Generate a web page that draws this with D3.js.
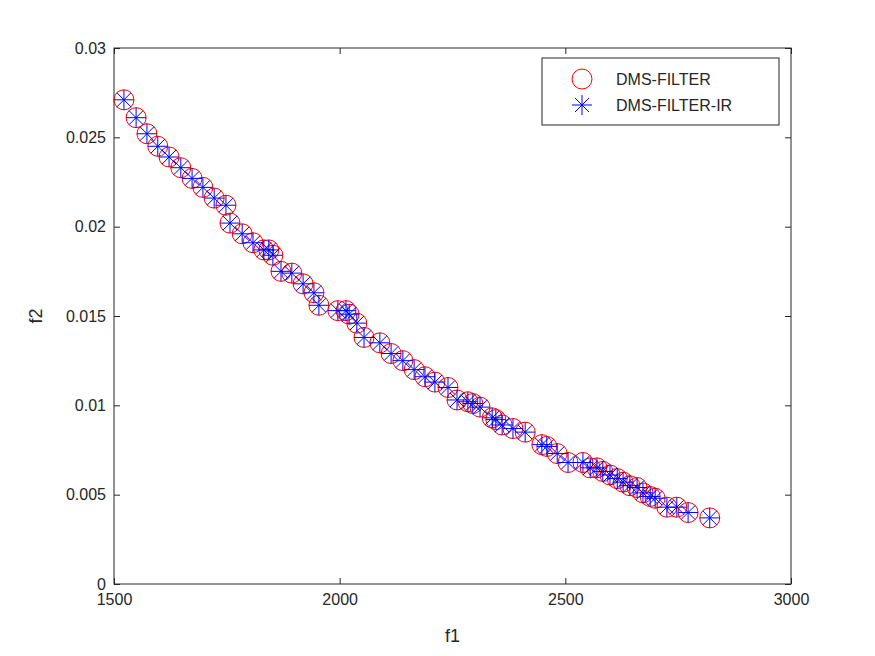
<!DOCTYPE html>
<html lang="en">
<head>
<meta charset="UTF-8">
<script src="https://d3js.org/d3.v7.min.js"></script>
<style>
  body { margin: 0; background: #fff; }
  text { font-family: "Liberation Sans", Arial, sans-serif; fill: #262626; }
</style>
</head>
<body>
<script>
const f1 = [1522,1549,1573,1597,1622,1648,1673,1697,1722,1748,1757,1784,1808,1832,1843,1852,1870,1894,1919,1943,1954,1996,2014,2021,2038,2054,2089,2114,2140,2165,2189,2211,2240,2260,2284,2295,2311,2338,2346,2360,2384,2411,2448,2459,2482,2506,2539,2555,2570,2583,2599,2615,2628,2643,2659,2672,2688,2699,2725,2747,2772,2820]
const f2 = [0.0271,0.0261,0.0252,0.0245,0.0239,0.0233,0.0227,0.0222,0.0216,0.0212,0.0202,0.0196,0.0191,0.0187,0.0187,0.0184,0.0175,0.0174,0.0168,0.0163,0.0156,0.0153,0.0153,0.0151,0.0146,0.0138,0.0135,0.0129,0.0125,0.0120,0.0116,0.0113,0.0110,0.0103,0.0102,0.0101,0.0099,0.0093,0.0092,0.0089,0.0087,0.0085,0.0078,0.0077,0.0073,0.0068,0.0068,0.0065,0.0065,0.0063,0.0061,0.0059,0.0057,0.0055,0.0054,0.0051,0.0049,0.0048,0.0043,0.0043,0.0040,0.0037]
const seriesNames = ["DMS-FILTER", "DMS-FILTER-IR"]
const xTicks = [1500, 2000, 2500, 3000]
const yTicks = [0, 0.005, 0.01, 0.015, 0.02, 0.025, 0.03]

const W = 875, H = 656
const margin = {top: 48, right: 84, bottom: 72, left: 114}
const width = W - margin.left - margin.right, height = H - margin.top - margin.bottom

const svg = d3.select("body").append("svg").attr("width", W).attr("height", H)
const g = svg.append("g").attr("transform", `translate(${margin.left},${margin.top})`)

const x = d3.scaleLinear().domain([1500, 3000]).range([0, width])
const y = d3.scaleLinear().domain([0, 0.03]).range([height, 0])

g.append("rect").attr("width", width).attr("height", height).attr("fill", "none").attr("stroke", "#262626")

const xa = g.append("g").attr("transform", `translate(0,${height})`)
  .call(d3.axisBottom(x).tickValues(xTicks).tickSize(-6).tickPadding(10).tickFormat(d3.format("d")))
const ya = g.append("g")
  .call(d3.axisLeft(y).tickValues(yTicks).tickSize(-6).tickPadding(8).tickFormat(d => d === 0 ? "0" : String(+d.toFixed(3))))
g.append("g").call(d3.axisTop(x).tickValues(xTicks).tickSize(-6).tickFormat(""))
g.append("g").attr("transform", `translate(${width},0)`).call(d3.axisRight(y).tickValues(yTicks).tickSize(-6).tickFormat(""))
g.selectAll(".domain").remove()
g.selectAll(".tick line").attr("stroke", "#262626")
g.selectAll(".tick text").style("font-size", "16px").attr("fill", "#262626")

g.append("text").attr("x", width / 2).attr("y", height + 58).attr("text-anchor", "middle").style("font-size", "18px").text("f1")
g.append("text").attr("transform", "rotate(-90)").attr("x", -height / 2).attr("y", -72).attr("text-anchor", "middle").style("font-size", "18px").text("f2")

const pts = f1.map((v, i) => [v, f2[i]])

function star(sel, r) {
  const a = r * Math.SQRT1_2
  sel.append("path").attr("fill", "none").attr("stroke", "blue").attr("stroke-width", 1)
    .attr("d", `M${-r},0H${r}M0,${-r}V${r}M${-a},${-a}L${a},${a}M${-a},${a}L${a},${-a}`)
}

g.selectAll(".c").data(pts).enter().append("circle")
  .attr("cx", d => x(d[0])).attr("cy", d => y(d[1])).attr("r", 10)
  .attr("fill", "none").attr("stroke", "red").attr("stroke-width", 1)
g.selectAll(".s").data(pts).enter().append("g")
  .attr("transform", d => `translate(${x(d[0])},${y(d[1])})`).call(star, 10)

// legend
const lg = g.append("g").attr("transform", `translate(${542 - margin.left},${58 - margin.top})`)
lg.append("rect").attr("width", 237).attr("height", 67).attr("fill", "#fff").attr("stroke", "#262626")
lg.append("circle").attr("cx", 40).attr("cy", 21).attr("r", 10).attr("fill", "none").attr("stroke", "red")
lg.append("g").attr("transform", "translate(40,47)").call(star, 10)
lg.selectAll(".lt").data(seriesNames).enter().append("text")
  .attr("x", 74).attr("y", (d, i) => 27 + i * 26).style("font-size", "16px").text(d => d)
</script>
</body>
</html>
